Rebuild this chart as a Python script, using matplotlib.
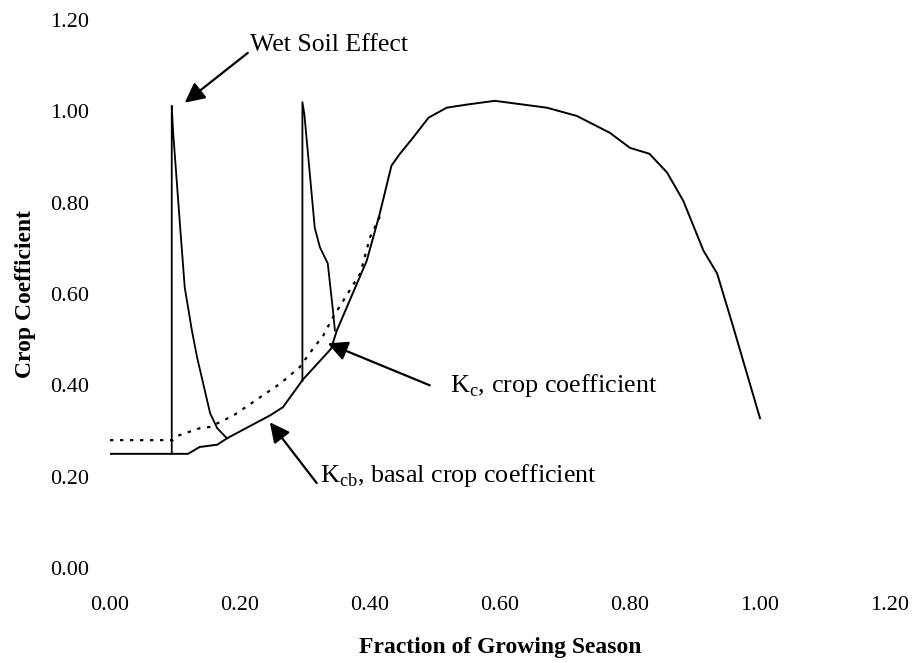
import numpy as np
import matplotlib
matplotlib.use('Agg')
import matplotlib.pyplot as plt

plt.rcParams['font.family'] = ['Liberation Serif', 'DejaVu Serif']
plt.rcParams['mathtext.fontset'] = 'custom'
plt.rcParams['mathtext.rm'] = 'Liberation Serif'

# Kcb, basal crop coefficient (solid)
kcb_x = [0.0, 0.12, 0.138, 0.165, 0.18, 0.246, 0.266, 0.297, 0.34, 0.349, 0.395, 0.415,
         0.433, 0.446, 0.466, 0.49, 0.518, 0.55, 0.592, 0.672, 0.718, 0.769, 0.80, 0.83,
         0.857, 0.882, 0.913, 0.934, 0.959, 1.0]
kcb_y = [0.25, 0.25, 0.265, 0.27, 0.284, 0.334, 0.352, 0.413, 0.48, 0.52, 0.673, 0.776,
         0.881, 0.907, 0.942, 0.986, 1.008, 1.015, 1.023, 1.008, 0.99, 0.953, 0.92, 0.907,
         0.866, 0.804, 0.695, 0.645, 0.527, 0.328]

# Kc wet soil spikes (solid)
spike1_x = [0.095, 0.095, 0.097, 0.108, 0.115, 0.126, 0.134, 0.154, 0.165, 0.18]
spike1_y = [0.25, 1.012, 0.957, 0.745, 0.614, 0.52, 0.461, 0.339, 0.306, 0.284]
spike2_x = [0.296, 0.296, 0.299, 0.315, 0.323, 0.335, 0.343, 0.346]
spike2_y = [0.41, 1.02, 0.994, 0.745, 0.702, 0.667, 0.564, 0.52]

# dotted curve
dot_x = [0.0, 0.097, 0.105, 0.138, 0.154, 0.19, 0.262, 0.292, 0.308, 0.328, 0.343,
         0.385, 0.40, 0.418]
dot_y = [0.28, 0.28, 0.29, 0.306, 0.309, 0.334, 0.404, 0.44, 0.472, 0.509, 0.549,
         0.645, 0.724, 0.778]

xticks = [0.0, 0.2, 0.4, 0.6, 0.8, 1.0, 1.2]
yticks = [0.0, 0.2, 0.4, 0.6, 0.8, 1.0, 1.2]

fig = plt.figure(figsize=(9.2, 6.63), dpi=100)
ax = fig.add_axes([110 / 920, 95 / 663, 780 / 920, 548 / 663])

ax.plot(dot_x, dot_y, color='black', lw=1.6, linestyle=(0, (1.5, 3)))
ax.plot(kcb_x, kcb_y, color='black', lw=1.4)
ax.plot(spike1_x, spike1_y, color='black', lw=1.3)
ax.plot(spike2_x, spike2_y, color='black', lw=1.3)

ax.set_xlim(0, 1.2)
ax.set_ylim(0, 1.2)
ax.set_xticks(xticks)
ax.set_yticks(yticks)
ax.set_xticklabels(['%.2f' % t for t in xticks])
ax.set_yticklabels(['%.2f' % t for t in yticks])
ax.tick_params(length=0, labelsize=16, pad=0)
ax.tick_params(axis='y', pad=15)
ax.tick_params(axis='x', pad=20)
for s in ax.spines.values():
    s.set_visible(False)

ax.set_xlabel('Fraction of Growing Season', fontsize=17, fontweight='bold', labelpad=16)
ax.set_ylabel('Crop Coefficient', fontsize=17, fontweight='bold', labelpad=10)

arrow = dict(arrowstyle='-|>', mutation_scale=30, lw=1.6, color='black',
             shrinkA=0, shrinkB=0)
ax.annotate('', xy=(0.115, 1.019), xytext=(0.212, 1.128), arrowprops=arrow)
ax.text(0.215, 1.132, 'Wet Soil Effect', fontsize=18.5, va='baseline')

ax.annotate('', xy=(0.335, 0.492), xytext=(0.492, 0.40), arrowprops=arrow)
ax.text(0.523, 0.385, r'K$_\mathrm{c}$, crop coefficient', fontsize=18.8, va='baseline')

ax.annotate('', xy=(0.246, 0.319), xytext=(0.318, 0.186), arrowprops=arrow)
ax.text(0.323, 0.188, r'K$_\mathrm{cb}$, basal crop coefficient', fontsize=18.8, va='baseline')

plt.savefig('out.png', dpi=100)
